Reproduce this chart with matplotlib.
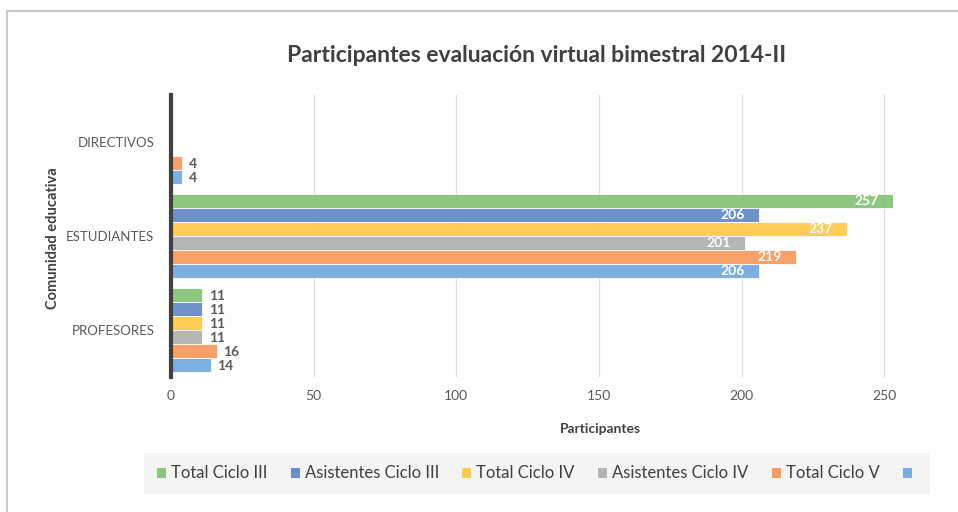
import matplotlib
matplotlib.use("Agg")
import matplotlib.pyplot as plt
from matplotlib.patches import Rectangle, Patch
import numpy as np

plt.rcParams['font.family'] = ['Lato', 'DejaVu Sans']

# data
categories = ["PROFESORES", "ESTUDIANTES", "DIRECTIVOS"]
series_names = ["Total Ciclo III", "Asistentes Ciclo III", "Total Ciclo IV",
                "Asistentes Ciclo IV", "Total Ciclo V", ""]
values = [
    [11, 257, None],   # Total Ciclo III
    [11, 206, None],   # Asistentes Ciclo III
    [11, 237, None],   # Total Ciclo IV
    [11, 201, None],   # Asistentes Ciclo IV
    [16, 219, 4],      # Total Ciclo V
    [14, 206, 4],      # (sin nombre)
]
colors = ["#89c57c", "#6a8fc8", "#ffcb4f", "#b4b4b5", "#f79d62", "#78aee0"]
x_ticks = [0, 50, 100, 150, 200, 250]
x_max = 253

fig = plt.figure(figsize=(9.58, 5.12), dpi=100)
ax = fig.add_axes([171 / 958, 1 - 377 / 512, (893 - 171) / 958, (377 - 95) / 512])

bar_h = 0.149
n = len(values)
for i, (vals, col) in enumerate(zip(values, colors)):
    offset = (n / 2 - 0.5 - i) * bar_h
    for j, v in enumerate(vals):
        if v is None:
            continue
        y = j + offset
        ax.barh(y, v, height=bar_h, color=col, edgecolor="#ffffff", linewidth=0.6, alpha=0.97, zorder=3)
        if v > 100:
            xe = min(v, x_max)
            ax.text(xe - 5, y, str(v), ha="right", va="center", color="white",
                    fontsize=10, fontweight="bold", zorder=4)
        else:
            ax.text(v + 2.3, y - 0.01, str(v), ha="left", va="center", color="#595959",
                    fontsize=10, fontweight="bold", zorder=4)

ax.set_xlim(0, x_max)
ax.set_ylim(-0.5, len(categories) - 0.5)
ax.set_xticks(x_ticks)
ax.set_xticklabels([str(t) for t in x_ticks])
ax.set_yticks(range(len(categories)))
ax.set_yticklabels(categories)
ax.tick_params(axis="both", length=0, labelsize=10, labelcolor="#595959")
ax.tick_params(axis="y", labelsize=9.5, pad=12)
ax.tick_params(axis="x", pad=9)
ax.xaxis.grid(True, color="#dedede", linewidth=0.9, zorder=0)
ax.set_axisbelow(True)
for s in ["top", "right", "bottom"]:
    ax.spines[s].set_visible(False)
ax.spines["left"].set_color("#404040")
ax.spines["left"].set_linewidth(3)
ax.spines["left"].set_zorder(5)

ax.set_xlabel("Participantes", fontsize=10, fontweight="bold", color="#404040")
ax.xaxis.set_label_coords((600 - 171) / 722, -(423 - 377) / 282)
ax.set_ylabel("Comunidad educativa", fontsize=10.5, fontweight="bold", color="#404040")
ax.yaxis.set_label_coords(-(171 - 60) / 722, (377 - 238) / 282)

fig.text(537 / 958, 1 - 55 / 512, "Participantes evaluación virtual bimestral 2014-II",
         ha="center", va="center", fontsize=16.5, fontweight="bold", color="#404040")

# legend
handles = [Patch(facecolor=c, edgecolor="none") for c in colors]
leg = fig.legend(handles, series_names, loc="center", ncol=6,
                 bbox_to_anchor=(537 / 958, 1 - 473.5 / 512), fontsize=12,
                 frameon=True, facecolor="#f2f2f2", edgecolor="none", fancybox=False,
                 handlelength=0.55, handleheight=0.55, handletextpad=0.3, columnspacing=1.4,
                 borderpad=0.75)
for t in leg.get_texts():
    t.set_color("#404040")

# outer chart border
fig.patches.append(Rectangle((7 / 958, -0.05), 1.1, 1 - 11 / 512 + 0.05, transform=fig.transFigure,
                             fill=False, edgecolor="#c8c8c8", linewidth=1.5))

fig.savefig("out.png", dpi=100)
